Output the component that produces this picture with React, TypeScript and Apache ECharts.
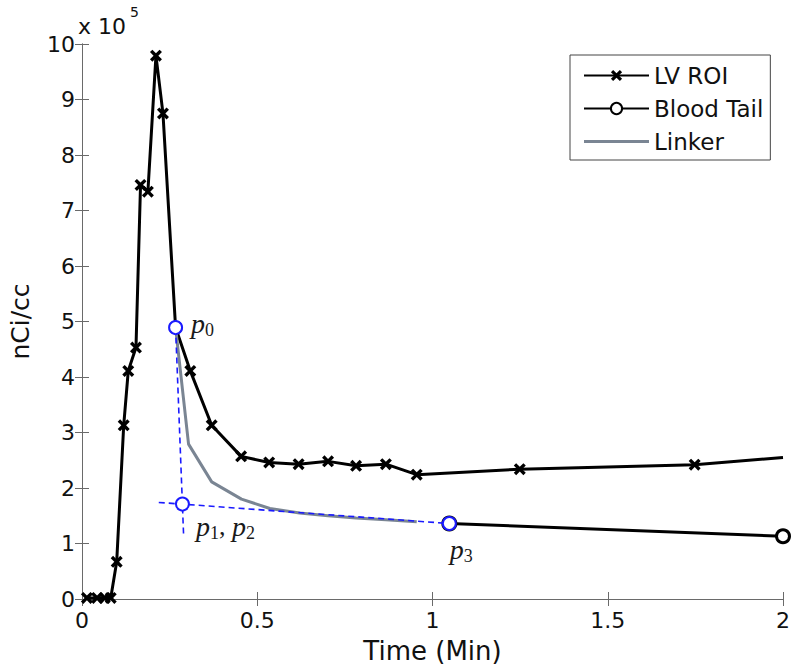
import React, { useEffect, useRef } from "react";
import * as echarts from "echarts";

// LV ROI time-activity curve (time in min, value in 1e5 nCi/cc)
const lvTime = [0.014, 0.043, 0.065, 0.082, 0.099, 0.119, 0.132, 0.154, 0.167, 0.188, 0.211, 0.231, 0.267, 0.309, 0.37, 0.454, 0.534, 0.618, 0.702, 0.782, 0.867, 0.955, 1.249, 1.748, 2.0];
const lvValue = [0.02, 0.02, 0.02, 0.02, 0.67, 3.13, 4.11, 4.53, 7.46, 7.34, 9.79, 8.75, 4.89, 4.11, 3.13, 2.57, 2.46, 2.43, 2.48, 2.4, 2.43, 2.24, 2.34, 2.42, 2.55];

// Blood tail
const bloodTime = [1.048, 2.0];
const bloodValue = [1.36, 1.13];

// Linker
const linkerTime = [0.267, 0.304, 0.37, 0.455, 0.536, 0.621, 0.702, 0.782, 0.867, 0.955];
const linkerValue = [4.89, 2.79, 2.11, 1.8, 1.63, 1.55, 1.5, 1.46, 1.43, 1.39];

// Construction guides (dashed)
const guideVerticalTime = [0.267, 0.29];
const guideVerticalValue = [4.89, 1.13];
const guideHorizontalTime = [0.219, 1.048];
const guideHorizontalValue = [1.74, 1.36];

// Control points
const ctrlNames = ["p0", "p12", "p3"];
const ctrlTime = [0.267, 0.2865, 1.048];
const ctrlValue = [4.89, 1.71, 1.36];

const xTicks = { min: 0, max: 2, interval: 0.5 };
const yTicks = { min: 0, max: 10, interval: 1 };

const FONT = "DejaVu Sans";
const crossPath =
  "path://M2,0 L5,3 L8,0 L10,2 L7,5 L10,8 L8,10 L5,7 L2,10 L0,8 L3,5 L0,2 Z";
const lineOnlyIcon =
  "path://M0,0 L0.01,0 L0.01,0.01 Z M0,5.5 L65,5.5 L65,8.5 L0,8.5 Z M0,14 L0.01,14 L0.01,13.99 Z";

const zip = (a: number[], b: number[]) => a.map((v, i) => [v, b[i]]);

export default function App() {
  const ref = useRef<HTMLDivElement>(null);
  useEffect(() => {
    if (!ref.current) return;
    const chart = echarts.init(ref.current, undefined, { renderer: "svg" });
    const axisLine = { show: true, lineStyle: { color: "#6a6a6a", width: 1 } };
    const tick = { show: true, inside: true, length: 7, lineStyle: { color: "#6a6a6a" } };
    const richP = {
      p: { fontFamily: "Liberation Serif", fontStyle: "italic", fontSize: 28, color: "#1a1a1a" },
      s: { fontFamily: "Liberation Serif", fontSize: 18, color: "#1a1a1a", padding: [13, 0, 0, 0] },
      c: { fontFamily: "Liberation Serif", fontSize: 26, color: "#1a1a1a" },
    };
    const labelFor: Record<string, any> = {
      p0: { show: true, formatter: "{p|p}{s|0}", position: "right", distance: 8, offset: [0, -4], rich: richP },
      p12: { show: true, formatter: "{p|p}{s|1}{c|, }{p|p}{s|2}", position: "right", distance: 6, offset: [0, 22], rich: richP },
      p3: { show: true, formatter: "{p|p}{s|3}", position: "bottom", distance: 3, offset: [12, 0], rich: richP },
    };
    const lastIdx = lvTime.length - 1;
    chart.setOption({
      animation: false,
      backgroundColor: "#ffffff",
      textStyle: { fontFamily: FONT },
      grid: { left: 78, right: 17, top: 44, bottom: 69, containLabel: false },
      legend: {
        orient: "vertical",
        left: 570,
        top: 55,
        data: ["LV ROI", "Blood Tail", { name: "Linker", icon: lineOnlyIcon }],
        itemWidth: 65,
        itemHeight: 14,
        itemGap: 10,
        padding: [9, 7, 7, 13],
        borderColor: "#444",
        borderWidth: 1,
        backgroundColor: "#fff",
        textStyle: { fontFamily: FONT, fontSize: 23, color: "#111" },
      },
      xAxis: [
        {
          type: "value",
          ...xTicks,
          position: "bottom",
          name: "Time (Min)",
          nameLocation: "middle",
          nameGap: 39,
          nameTextStyle: { fontFamily: FONT, fontSize: 26, color: "#111" },
          axisLine,
          axisTick: tick,
          splitLine: { show: false },
          axisLabel: { fontFamily: FONT, fontSize: 22, color: "#111", margin: 10 },
        },
        {
          type: "value",
          ...xTicks,
          position: "top",
          axisLine,
          axisTick: tick,
          splitLine: { show: false },
          axisLabel: { show: false },
        },
      ],
      yAxis: [
        {
          type: "value",
          ...yTicks,
          position: "left",
          name: "nCi/cc",
          nameLocation: "middle",
          nameGap: 49,
          nameRotate: 90,
          nameTextStyle: { fontFamily: FONT, fontSize: 25, color: "#111" },
          axisLine,
          axisTick: tick,
          splitLine: { show: false },
          axisLabel: { fontFamily: FONT, fontSize: 22, color: "#111", margin: 7 },
        },
        {
          type: "value",
          ...yTicks,
          position: "right",
          axisLine,
          axisTick: tick,
          splitLine: { show: false },
          axisLabel: { show: false },
        },
      ],
      graphic: [
        {
          type: "text",
          left: 78,
          top: 15,
          style: { text: "x 10", font: `22px "${FONT}"`, fill: "#111" },
        },
        {
          type: "text",
          left: 130,
          top: 5,
          style: { text: "5", font: `14px "${FONT}"`, fill: "#111" },
        },
      ],
      series: [
        {
          name: "LV ROI",
          type: "line",
          data: lvTime.map((t, i) =>
            i === lastIdx ? { value: [t, lvValue[i]], symbol: "none" } : { value: [t, lvValue[i]] }
          ),
          symbol: crossPath,
          symbolSize: 12,
          lineStyle: { color: "#000", width: 3 },
          itemStyle: { color: "#000" },
          z: 3,
        },
        {
          name: "Blood Tail",
          type: "line",
          data: zip(bloodTime, bloodValue),
          symbol: "circle",
          symbolSize: 13,
          lineStyle: { color: "#000", width: 3 },
          itemStyle: { color: "#fff", borderColor: "#000", borderWidth: 3 },
          z: 3,
        },
        {
          name: "Linker",
          type: "line",
          data: zip(linkerTime, linkerValue),
          symbol: "none",
          lineStyle: { color: "#7a8593", width: 3 },
          itemStyle: { color: "#7a8593" },
          z: 4,
        },
        {
          name: "guideV",
          type: "line",
          data: zip(guideVerticalTime, guideVerticalValue),
          symbol: "none",
          lineStyle: { color: "#1a1aff", width: 1.6, type: [6, 4] },
          z: 5,
        },
        {
          name: "guideH",
          type: "line",
          data: zip(guideHorizontalTime, guideHorizontalValue),
          symbol: "none",
          lineStyle: { color: "#1a1aff", width: 1.6, type: [6, 4] },
          z: 5,
        },
        {
          name: "ctrl",
          type: "scatter",
          data: ctrlNames.map((n, i) => ({ value: [ctrlTime[i], ctrlValue[i]], label: labelFor[n] })),
          symbol: "circle",
          symbolSize: 13,
          itemStyle: { color: "#fff", borderColor: "#1a1aff", borderWidth: 2, opacity: 1 },
          z: 6,
        },
      ],
    });
    return () => chart.dispose();
  }, []);
  return (
    <div
      ref={ref}
      style={{ position: "absolute", left: 0, top: 0, width: 800, height: 669 }}
    />
  );
}
